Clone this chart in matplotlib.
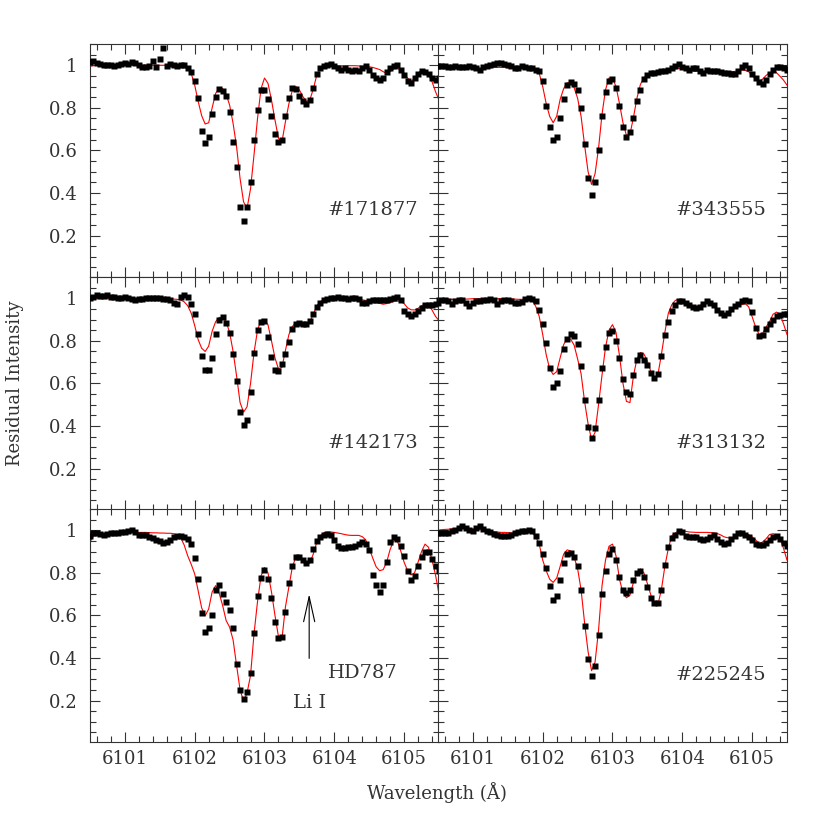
import numpy as np
import matplotlib
matplotlib.use('Agg')
import matplotlib.pyplot as plt
from matplotlib.ticker import MultipleLocator, FuncFormatter

plt.rcParams['font.family'] = ['DejaVu Serif']

# spectra sampled on a 0.05 A grid from 6100.50 to 6105.50
wave = 6100.5 + 0.05 * np.arange(101)

obs_171877 = [1.017, 1.02, 1.01, 1.005, 1.0, 1.0, 1.0, 0.997, 1.0, 1.005,
              1.01, 1.005, 1.015, 1.01, 1.0, 0.99, 0.99, 0.995, 1.02, 0.99,
              1.03, 1.08, 0.995, 1.005, 1.0, 0.995, 1.0, 1.0, 0.985, 0.97,
              0.925, 0.845, 0.69, 0.635, 0.665, 0.77, 0.85, 0.89, 0.88, 0.857,
              0.78, 0.64, 0.52, 0.335, 0.27, 0.335, 0.45, 0.65, 0.79, 0.885,
              0.885, 0.84, 0.76, 0.675, 0.64, 0.65, 0.76, 0.845, 0.895, 0.89,
              0.857, 0.83, 0.82, 0.835, 0.895, 0.96, 0.985, 0.995, 1.0, 1.005,
              0.995, 0.985, 0.98, 0.985, 0.98, 0.975, 0.98, 0.975, 0.985, 0.995,
              0.98, 0.955, 0.94, 0.93, 0.94, 0.97, 0.985, 0.995, 1.0, 0.98,
              0.955, 0.925, 0.915, 0.94, 0.96, 0.975, 0.97, 0.96, 0.94, 0.93,
              0.94]
fit_171877 = [0.995, 0.998, 1.0, 1.0, 1.0, 1.0, 1.0, 1.0, 1.0, 1.0,
              1.0, 1.0, 1.0, 1.0, 1.0, 1.0, 1.0, 1.0, 1.0, 1.0,
              1.0, 1.0, 1.0, 1.0, 1.0, 1.0, 0.995, 0.99, 0.985, 0.962,
              0.907, 0.83, 0.763, 0.724, 0.73, 0.80, 0.868, 0.893, 0.89, 0.864,
              0.813, 0.727, 0.617, 0.468, 0.358, 0.327, 0.42, 0.58, 0.75, 0.89,
              0.94, 0.915, 0.837, 0.743, 0.657, 0.64, 0.735, 0.82, 0.884, 0.9,
              0.884, 0.853, 0.83, 0.837, 0.89, 0.955, 0.98, 0.994, 1.0, 1.0,
              1.0, 0.998, 0.997, 0.997, 0.998, 0.998, 0.998, 0.997, 0.996, 0.995,
              0.993, 0.99, 0.985, 0.98, 0.97, 0.962, 0.97, 0.983, 0.985, 0.978,
              0.962, 0.94, 0.923, 0.94, 0.962, 0.978, 0.973, 0.955, 0.923, 0.876,
              0.837]

obs_343555 = [0.995, 0.995, 0.995, 0.993, 0.993, 0.995, 0.99, 0.99, 0.99, 0.995,
              0.99, 0.985, 0.98, 0.99, 0.995, 1.0, 1.005, 1.01, 1.012, 1.005,
              1.0, 0.995, 0.985, 0.985, 0.995, 0.99, 0.985, 0.985, 0.98, 0.975,
              0.925, 0.81, 0.71, 0.65, 0.665, 0.75, 0.84, 0.905, 0.92, 0.912,
              0.885, 0.80, 0.63, 0.47, 0.39, 0.45, 0.6, 0.76, 0.873, 0.925,
              0.935, 0.895, 0.81, 0.71, 0.665, 0.688, 0.75, 0.83, 0.885, 0.935,
              0.955, 0.962, 0.965, 0.97, 0.972, 0.975, 0.98, 0.988, 0.995, 1.005,
              0.99, 0.985, 0.98, 0.985, 0.988, 0.975, 0.965, 0.978, 0.975, 0.975,
              0.972, 0.97, 0.965, 0.962, 0.958, 0.96, 0.975, 0.99, 1.0, 0.985,
              0.96, 0.94, 0.92, 0.91, 0.93, 0.96, 0.98, 0.99, 0.99, 0.985,
              0.98]
fit_343555 = [0.985, 0.985, 0.985, 0.985, 0.985, 0.985, 0.985, 0.985, 0.985, 0.985,
              0.985, 0.985, 0.985, 0.985, 0.985, 0.988, 0.99, 0.99, 0.99, 0.99,
              0.988, 0.986, 0.985, 0.985, 0.985, 0.985, 0.985, 0.985, 0.98, 0.962,
              0.90, 0.82, 0.76, 0.73, 0.76, 0.84, 0.89, 0.918, 0.918, 0.895,
              0.845, 0.76, 0.625, 0.5, 0.44, 0.49, 0.61, 0.77, 0.885, 0.94,
              0.94, 0.9, 0.82, 0.73, 0.67, 0.675, 0.755, 0.845, 0.91, 0.942,
              0.955, 0.96, 0.963, 0.965, 0.968, 0.972, 0.975, 0.98, 0.983, 0.986,
              0.982, 0.978, 0.975, 0.973, 0.972, 0.972, 0.972, 0.972, 0.972, 0.972,
              0.972, 0.972, 0.971, 0.97, 0.97, 0.971, 0.975, 0.978, 0.976, 0.97,
              0.953, 0.935, 0.925, 0.935, 0.952, 0.965, 0.97, 0.965, 0.948, 0.93,
              0.907]

obs_142173 = [1.0, 1.005, 1.015, 1.01, 1.012, 1.015, 1.008, 1.005, 1.0, 1.0,
              1.005, 1.0, 0.995, 0.992, 0.995, 0.998, 1.0, 1.003, 1.003, 1.002,
              1.0, 0.998, 0.996, 0.99, 0.978, 0.975, 1.005, 1.017, 1.008, 0.975,
              0.925, 0.83, 0.73, 0.665, 0.665, 0.72, 0.83, 0.9, 0.912, 0.885,
              0.835, 0.74, 0.61, 0.465, 0.405, 0.43, 0.56, 0.745, 0.85, 0.89,
              0.895, 0.82, 0.725, 0.665, 0.66, 0.69, 0.74, 0.795, 0.855, 0.88,
              0.882, 0.878, 0.88, 0.895, 0.925, 0.96, 0.978, 0.99, 0.995, 1.0,
              1.003, 1.008, 1.003, 1.0, 0.997, 1.0, 1.0, 0.995, 0.978, 0.98,
              0.985, 0.99, 0.99, 0.99, 0.992, 0.993, 0.996, 1.0, 1.005, 0.99,
              0.94, 0.925, 0.915, 0.928, 0.94, 0.955, 0.97, 0.97, 0.97, 0.975,
              0.99]
fit_142173 = [0.992, 0.995, 0.998, 0.998, 0.998, 0.998, 0.998, 0.998, 0.998, 0.998,
              0.998, 0.998, 0.998, 0.998, 0.998, 0.998, 0.998, 0.998, 0.998, 0.998,
              0.998, 0.998, 0.998, 0.997, 0.996, 0.995, 0.992, 0.983, 0.965, 0.93,
              0.872, 0.805, 0.765, 0.75, 0.775, 0.845, 0.89, 0.91, 0.91, 0.89,
              0.84, 0.75, 0.635, 0.51, 0.465, 0.49, 0.6, 0.745, 0.85, 0.898,
              0.9, 0.875, 0.8, 0.72, 0.668, 0.675, 0.755, 0.83, 0.868, 0.886,
              0.884, 0.88, 0.875, 0.89, 0.925, 0.965, 0.985, 0.993, 0.998, 0.998,
              0.997, 0.996, 0.996, 0.995, 0.995, 0.995, 0.995, 0.994, 0.993, 0.99,
              0.986, 0.984, 0.98, 0.976, 0.972, 0.975, 0.98, 0.985, 0.987, 0.985,
              0.975, 0.955, 0.946, 0.945, 0.953, 0.965, 0.972, 0.968, 0.945, 0.915,
              0.895]

obs_313132 = [0.976, 0.992, 0.99, 0.985, 0.975, 0.985, 0.99, 0.99, 0.978, 0.965,
              0.976, 0.985, 0.988, 0.99, 0.992, 0.998, 0.99, 0.975, 0.985, 0.99,
              0.992, 0.985, 0.98, 0.978, 0.982, 0.998, 1.0, 0.998, 0.985, 0.945,
              0.878, 0.79, 0.67, 0.585, 0.6, 0.66, 0.76, 0.81, 0.83, 0.825,
              0.785, 0.68, 0.52, 0.396, 0.345, 0.39, 0.52, 0.67, 0.77, 0.835,
              0.845, 0.8, 0.72, 0.62, 0.56, 0.55, 0.64, 0.71, 0.735, 0.71,
              0.685, 0.65, 0.625, 0.645, 0.73, 0.828, 0.89, 0.938, 0.97, 0.988,
              0.985, 0.978, 0.968, 0.96, 0.955, 0.96, 0.975, 0.985, 0.978, 0.97,
              0.945, 0.93, 0.922, 0.93, 0.95, 0.965, 0.975, 0.985, 0.99, 0.985,
              0.937, 0.86, 0.825, 0.828, 0.855, 0.88, 0.9, 0.915, 0.922, 0.925,
              0.927]
fit_313132 = [0.98, 0.99, 0.992, 0.995, 0.995, 0.995, 0.995, 0.995, 0.996, 0.997,
              0.998, 0.998, 0.998, 0.998, 0.998, 0.998, 0.998, 0.998, 0.998, 0.998,
              0.998, 0.997, 0.996, 0.995, 0.995, 0.995, 0.995, 0.99, 0.962, 0.915,
              0.83, 0.735, 0.668, 0.642, 0.655, 0.72, 0.782, 0.812, 0.808, 0.78,
              0.715, 0.645, 0.515, 0.41, 0.335, 0.37, 0.5, 0.64, 0.77, 0.85,
              0.876, 0.84, 0.73, 0.6, 0.515, 0.51, 0.635, 0.715, 0.745, 0.738,
              0.705, 0.655, 0.622, 0.64, 0.735, 0.84, 0.93, 0.97, 0.99, 0.995,
              0.993, 0.985, 0.975, 0.965, 0.96, 0.965, 0.975, 0.98, 0.975, 0.965,
              0.952, 0.935, 0.92, 0.92, 0.935, 0.955, 0.965, 0.97, 0.975, 0.96,
              0.914, 0.865, 0.83, 0.835, 0.865, 0.89, 0.925, 0.935, 0.925, 0.88,
              0.83]

obs_hd787 = [0.975, 0.987, 0.986, 0.984, 0.978, 0.982, 0.985, 0.987, 0.988, 0.99,
             0.992, 0.997, 1.0, 0.992, 0.98, 0.977, 0.977, 0.97, 0.963, 0.955,
             0.95, 0.94, 0.945, 0.955, 0.968, 0.972, 0.972, 0.968, 0.96, 0.935,
             0.87, 0.77, 0.61, 0.52, 0.542, 0.6, 0.72, 0.745, 0.702, 0.665,
             0.625, 0.54, 0.37, 0.25, 0.205, 0.24, 0.33, 0.517, 0.69, 0.777,
             0.815, 0.77, 0.68, 0.57, 0.495, 0.5, 0.616, 0.75, 0.83, 0.875,
             0.875, 0.86, 0.845, 0.86, 0.91, 0.95, 0.97, 0.98, 0.984, 0.978,
             0.955, 0.925, 0.918, 0.918, 0.92, 0.92, 0.928, 0.935, 0.945, 0.935,
             0.905, 0.79, 0.745, 0.71, 0.745, 0.85, 0.945, 0.97, 0.96, 0.925,
             0.88, 0.81, 0.768, 0.785, 0.83, 0.875, 0.9, 0.9, 0.865, 0.832,
             0.81]
fit_hd787 = [0.945, 0.973, 0.978, 0.978, 0.976, 0.98, 0.984, 0.986, 0.988, 0.99,
             0.99, 0.992, 0.992, 0.99, 0.99, 0.99, 0.99, 0.989, 0.988, 0.988,
             0.987, 0.987, 0.986, 0.986, 0.984, 0.976, 0.965, 0.93, 0.88, 0.84,
             0.795, 0.715, 0.635, 0.598, 0.63, 0.71, 0.74, 0.705, 0.647, 0.576,
             0.545, 0.485, 0.365, 0.25, 0.197, 0.235, 0.318, 0.514, 0.665, 0.785,
             0.825, 0.8, 0.71, 0.6, 0.5, 0.49, 0.64, 0.735, 0.83, 0.873,
             0.875, 0.858, 0.845, 0.845, 0.89, 0.945, 0.975, 0.988, 0.992, 0.992,
             0.99, 0.987, 0.984, 0.98, 0.977, 0.976, 0.976, 0.976, 0.97, 0.955,
             0.915, 0.87, 0.828, 0.81, 0.815, 0.85, 0.91, 0.95, 0.953, 0.905,
             0.85, 0.81, 0.79, 0.8, 0.85, 0.9, 0.935, 0.92, 0.86, 0.79,
             0.7]

obs_225245 = [0.987, 0.985, 0.985, 0.987, 0.995, 1.003, 1.01, 1.018, 1.012, 1.0,
              0.997, 1.01, 1.018, 1.005, 0.995, 0.99, 0.982, 0.976, 0.973, 0.972,
              0.974, 0.976, 0.985, 0.99, 0.995, 0.998, 1.0, 0.998, 0.975, 0.94,
              0.89, 0.825, 0.74, 0.67, 0.692, 0.765, 0.845, 0.89, 0.895, 0.876,
              0.83, 0.72, 0.548, 0.396, 0.315, 0.36, 0.51, 0.7, 0.81, 0.89,
              0.91, 0.862, 0.78, 0.72, 0.705, 0.72, 0.765, 0.8, 0.81, 0.78,
              0.732, 0.684, 0.66, 0.66, 0.72, 0.835, 0.92, 0.965, 0.98, 0.995,
              0.99, 0.975, 0.97, 0.97, 0.967, 0.96, 0.953, 0.958, 0.97, 0.976,
              0.96, 0.945, 0.936, 0.94, 0.96, 0.975, 0.985, 0.985, 0.98, 0.97,
              0.953, 0.935, 0.93, 0.932, 0.94, 0.955, 0.968, 0.975, 0.96, 0.94,
              0.925]
fit_225245 = [1.0, 1.003, 1.004, 1.005, 1.006, 1.007, 1.008, 1.008, 1.008, 1.007,
              1.005, 1.004, 1.003, 1.0, 0.998, 0.996, 0.994, 0.992, 0.99, 0.99,
              0.989, 0.988, 0.987, 0.987, 0.988, 0.99, 0.992, 0.988, 0.97, 0.935,
              0.86, 0.81, 0.77, 0.755, 0.775, 0.83, 0.888, 0.908, 0.903, 0.874,
              0.82, 0.72, 0.565, 0.43, 0.34, 0.38, 0.53, 0.74, 0.86, 0.925,
              0.935, 0.88, 0.77, 0.705, 0.683, 0.695, 0.755, 0.8, 0.818, 0.8,
              0.75, 0.695, 0.66, 0.65, 0.72, 0.83, 0.915, 0.975, 0.987, 0.998,
              0.998, 0.995, 0.992, 0.991, 0.99, 0.99, 0.99, 0.99, 0.989, 0.988,
              0.985, 0.978, 0.969, 0.965, 0.963, 0.968, 0.978, 0.987, 0.985, 0.98,
              0.969, 0.955, 0.937, 0.945, 0.96, 0.98, 0.984, 0.978, 0.96, 0.915,
              0.86]

panels = [('#171877', obs_171877, fit_171877),
          ('#343555', obs_343555, fit_343555),
          ('#142173', obs_142173, fit_142173),
          ('#313132', obs_313132, fit_313132),
          ('HD787', obs_hd787, fit_hd787),
          ('#225245', obs_225245, fit_225245)]

W, H = 830., 830.
fig = plt.figure(figsize=(8.3, 8.3), dpi=100)

lefts = [90, 438]
tops = [44, 277, 509]
pw, ph = 349, 233
gray = '#333333'

for k, (name, obs, fit) in enumerate(panels):
    row, col = k // 2, k % 2
    ax = fig.add_axes([lefts[col] / W, 1 - (tops[row] + ph) / H, pw / W, ph / H])
    ax.plot(wave, fit, color='red', lw=0.8, zorder=2)
    ax.plot(wave, obs, 's', color='black', ms=4.3, mec='none', zorder=3)
    ax.set_xlim(6100.5, 6105.5)
    ax.set_ylim(0.005, 1.1)
    ax.xaxis.set_major_locator(MultipleLocator(1))
    ax.xaxis.set_minor_locator(MultipleLocator(0.2))
    ax.yaxis.set_major_locator(MultipleLocator(0.2))
    ax.yaxis.set_minor_locator(MultipleLocator(0.05))
    ax.xaxis.set_major_formatter(FuncFormatter(lambda v, p: '%d' % round(v)))
    ax.yaxis.set_major_formatter(FuncFormatter(lambda v, p: '%g' % round(v, 1)))
    ax.tick_params(which='both', direction='in', top=True, right=True,
                   color=gray, width=0.8, labelsize=13, labelcolor=gray,
                   labelleft=(col == 0), labelbottom=(row == 2))
    ax.tick_params(which='major', length=7)
    ax.tick_params(which='minor', length=4)
    ax.tick_params(axis='x', pad=6)
    ax.tick_params(axis='y', pad=9)
    for s in ax.spines.values():
        s.set_color(gray)
        s.set_linewidth(0.8)
    if name == 'HD787':
        ax.text(6104.91, 0.327, name, ha='right', va='center', fontsize=14, color=gray)
        ax.text(6103.645, 0.19, 'Li I', ha='center', va='center', fontsize=14, color=gray)
        ax.annotate('', xy=(6103.64, 0.70), xytext=(6103.64, 0.398),
                    arrowprops=dict(arrowstyle='->,head_length=1.8,head_width=0.4',
                                    lw=0.8, color='black', shrinkA=0, shrinkB=0))
    else:
        ax.text(6105.2, 0.322, name, ha='right', va='center', fontsize=14, color=gray)

fig.text(15 / W, 1 - 383 / H, 'Residual Intensity', rotation=90, ha='center',
         va='center', fontsize=13, color=gray)
fig.text(437 / W, 1 - 793 / H, 'Wavelength (Å)', ha='center', va='center',
         fontsize=13, color=gray)

fig.savefig('out.png', dpi=100)
